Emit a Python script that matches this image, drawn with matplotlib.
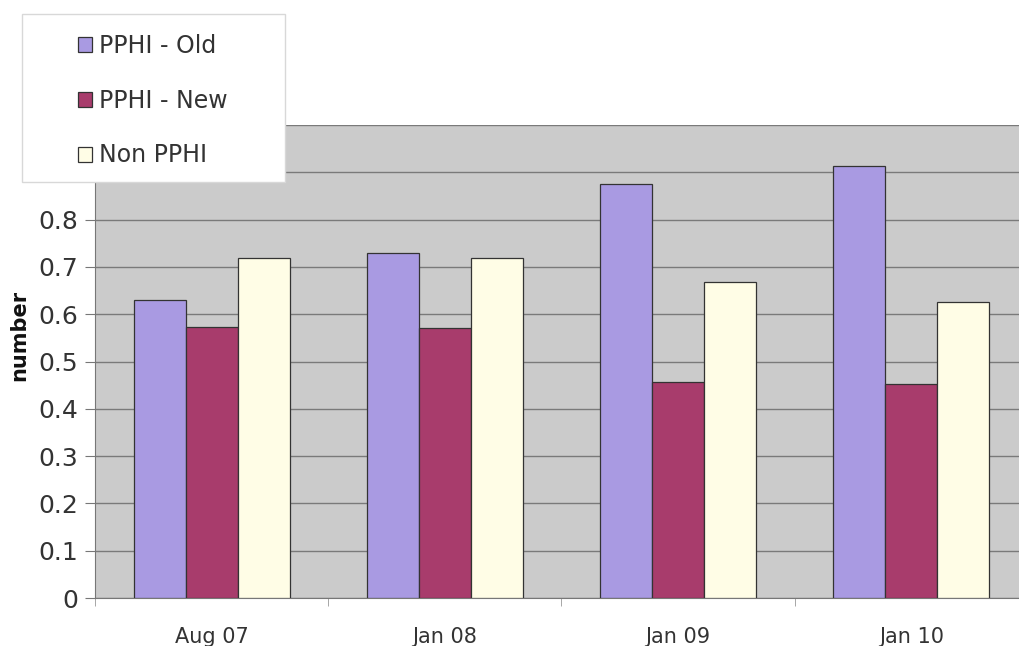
import matplotlib.pyplot as plt
from matplotlib.patches import Rectangle
import numpy as np

categories = ['Aug 07', 'Jan 08', 'Jan 09', 'Jan 10']
pphi_old = [0.63, 0.73, 0.875, 0.913]
pphi_new = [0.573, 0.571, 0.456, 0.452]
non_pphi = [0.718, 0.718, 0.668, 0.626]
series_names = ['PPHI - Old', 'PPHI - New', 'Non PPHI']
colors = ['#a99ae2', '#a83c6c', '#fffde6']
ytick_vals = [0, 0.1, 0.2, 0.3, 0.4, 0.5, 0.6, 0.7, 0.8, 0.9, 1.0]
ytick_labels = ['0', '0.1', '0.2', '0.3', '0.4', '0.5', '0.6', '0.7', '0.8', '', '']

W, H = 1020, 646
fig = plt.figure(figsize=(W / 100, H / 100), dpi=100)
ax = fig.add_axes([95/W, 48/H, 933/W, 473/H])
ax.set_facecolor('#cbcbcb')

x = np.arange(len(categories))
w = 0.223
handles = []
for i, (vals, name, c) in enumerate(zip([pphi_old, pphi_new, non_pphi], series_names, colors)):
    b = ax.bar(x + (i - 1) * w, vals, w, color=c, edgecolor='#333333', linewidth=0.9,
               label=name, zorder=3)
    handles.append(b)

ax.set_xlim(-0.5, 3.5)
ax.set_ylim(0, 1.0)
ax.set_yticks(ytick_vals)
ax.set_yticklabels(ytick_labels)
ax.yaxis.grid(True, color='#7a7a7a', linewidth=1, zorder=0)
ax.set_axisbelow(True)

ax.set_xticks(x)
ax.set_xticklabels(categories, fontsize=15, color='#333333')
ax.set_xticks(np.arange(-0.5, 3.6, 1), minor=True)
ax.tick_params(axis='x', which='major', length=0, pad=21)
ax.tick_params(axis='x', which='minor', length=6, color='#999999')
ax.tick_params(axis='y', labelsize=18, length=7, color='#777777', labelcolor='#333333', pad=5)

for s in ['top', 'right']:
    ax.spines[s].set_visible(False)
ax.spines['left'].set_color('#777777')
ax.spines['bottom'].set_color('#777777')

ax.set_ylabel('number', fontsize=15, fontweight='bold', color='#111111')
ax.yaxis.set_label_coords(-0.071, 0.555)

# legend box drawn on the figure, above the axes
box = Rectangle((22/W, 1 - 182/H), 263/W, 168/H, transform=fig.transFigure,
                facecolor='white', edgecolor='#d8d8d8', linewidth=1, zorder=4)
fig.patches.append(box)

leg = fig.legend(handles=handles, labels=series_names, loc='upper left',
                 bbox_to_anchor=(78/W, 1 - 34/H), fontsize=17, frameon=False,
                 handlelength=0.6, handleheight=0.6, handletextpad=0.3,
                 labelspacing=1.3, borderpad=0, borderaxespad=0)
leg.set_zorder(5)
for t in leg.get_texts():
    t.set_color('#333333')

fig.savefig('out.png', dpi=100)
